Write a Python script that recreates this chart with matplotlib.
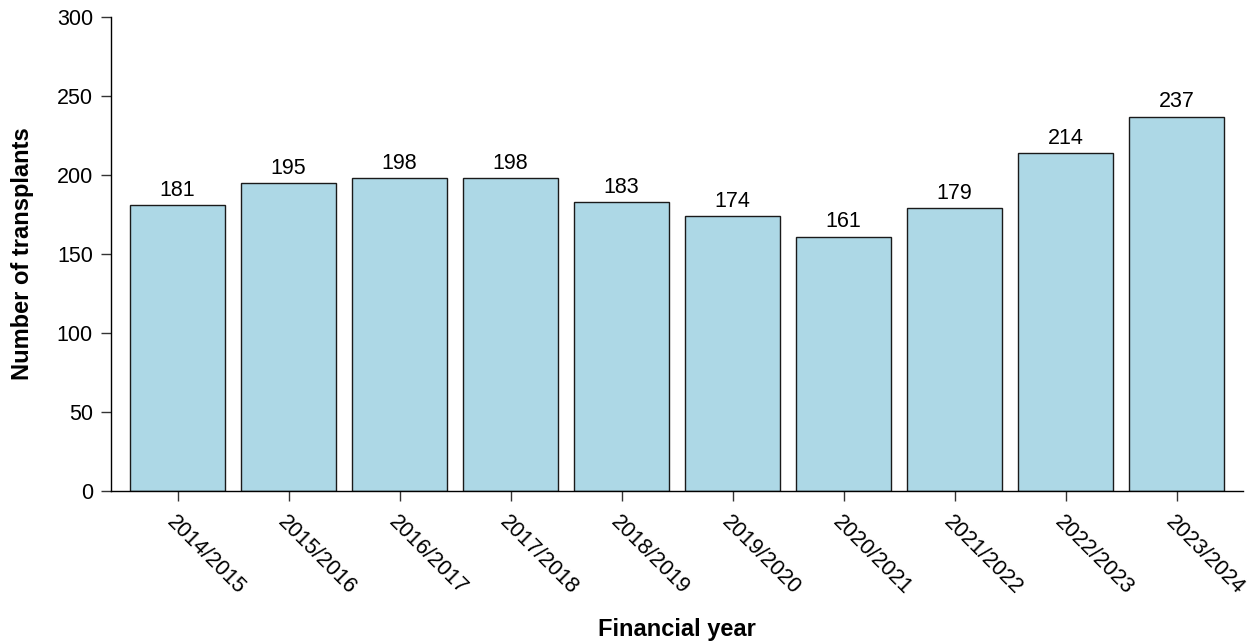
import matplotlib
matplotlib.use("Agg")
import matplotlib.pyplot as plt

plt.rcParams['font.family'] = ['Liberation Sans', 'DejaVu Sans']

years = ['2014/2015', '2015/2016', '2016/2017', '2017/2018', '2018/2019',
         '2019/2020', '2020/2021', '2021/2022', '2022/2023', '2023/2024']
transplants = [181, 195, 198, 198, 183, 174, 161, 179, 214, 237]

fig = plt.figure(figsize=(12.48, 6.43), dpi=100)
ax = fig.add_axes([0.0889, 0.2364, 0.9072, 0.7372])

x = range(len(years))
bars = ax.bar(x, transplants, width=0.85, color='#add8e6',
              edgecolor='#1a1a1a', linewidth=1.0)
ax.bar_label(bars, padding=3, fontsize=15.5)

ax.set_xlim(-0.6, 9.6)
ax.set_ylim(0, 300)
ax.set_yticks(range(0, 301, 50))
ax.set_xticks(list(x))
ax.set_xticklabels(years, rotation=-45, ha='left', va='top',
                   rotation_mode='anchor', fontsize=15.5)
ax.tick_params(axis='y', labelsize=15.5)
ax.tick_params(length=7, width=1.0, color='#333333')
ax.tick_params(axis='y', pad=6)
ax.tick_params(axis='x', pad=8)

for side in ('top', 'right'):
    ax.spines[side].set_visible(False)
for side in ('left', 'bottom'):
    ax.spines[side].set_linewidth(1.0)

ax.set_xlabel('Financial year', fontsize=17, fontweight='bold', labelpad=14)
ax.set_ylabel('Number of transplants', fontsize=17, fontweight='bold',
              labelpad=16)

fig.savefig('out.png', dpi=100)
